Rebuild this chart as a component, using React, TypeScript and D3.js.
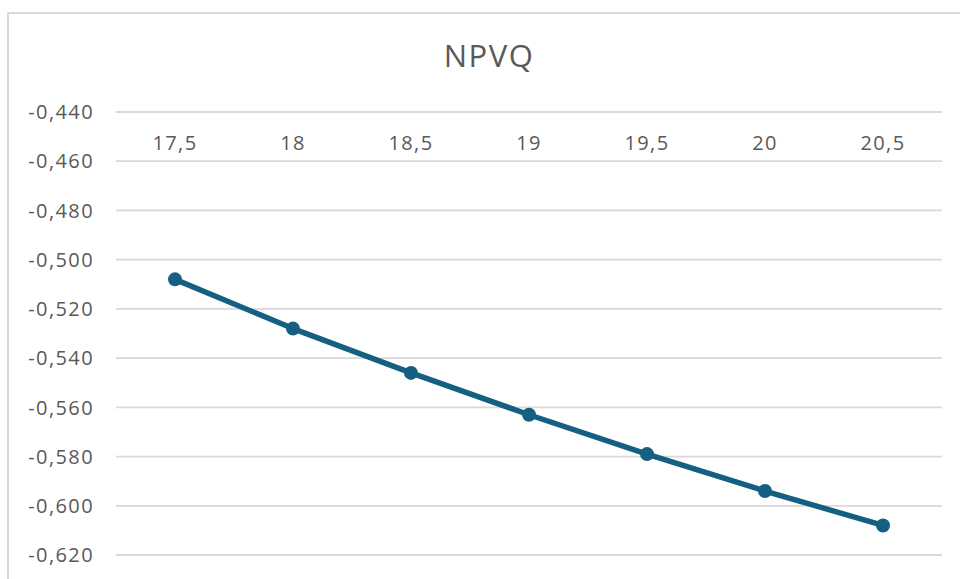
import React from "react";
import * as d3 from "d3";

// NPVQ as a function of the input parameter
const categories: string[] = ["17,5", "18", "18,5", "19", "19,5", "20", "20,5"];
const npvqValues: number[] = [-0.508, -0.528, -0.546, -0.563, -0.579, -0.594, -0.608];
const yTicks: number[] = [-0.44, -0.46, -0.48, -0.5, -0.52, -0.54, -0.56, -0.58, -0.6, -0.62];
const chartTitle = "NPVQ";

const WIDTH = 960;
const HEIGHT = 579;
const plot = { left: 116, right: 942, top: 112, bottom: 555 };

const TEXT = "#595959";
const GRID = "#d9d9d9";
const LINE = "#156082";
const FONT = "'Open Sans', 'Liberation Sans', sans-serif";

const fmt = (v: number) => v.toFixed(3).replace(".", ",");

export default function App() {
  const x = d3
    .scalePoint<string>()
    .domain(categories)
    .range([plot.left, plot.right])
    .padding(0.5);
  const y = d3
    .scaleLinear()
    .domain([-0.62, -0.44])
    .range([plot.bottom, plot.top]);

  const pts = categories.map((c, i) => ({ c, v: npvqValues[i] }));
  const line = d3
    .line<{ c: string; v: number }>()
    .x((d) => x(d.c) as number)
    .y((d) => y(d.v));

  return (
    <svg
      width={WIDTH}
      height={HEIGHT}
      style={{ position: "absolute", left: 0, top: 0, background: "#fff" }}
      fontFamily={FONT}
    >
      {/* chart area frame */}
      <rect x={8} y={13} width={980} height={600} fill="#fff" stroke={GRID} strokeWidth={2} />

      <text
        x={489}
        y={67}
        textAnchor="middle"
        fontSize={31}
        letterSpacing={1.5}
        fill={TEXT}
      >
        {chartTitle}
      </text>

      {/* horizontal gridlines */}
      {yTicks.map((t) => (
        <line
          key={t}
          x1={plot.left}
          x2={plot.right}
          y1={y(t)}
          y2={y(t)}
          stroke={GRID}
          strokeWidth={1.8}
        />
      ))}

      {/* value axis labels */}
      {yTicks.map((t) => (
        <text
          key={"l" + t}
          x={94}
          y={y(t)}
          dy="0.36em"
          textAnchor="end"
          fontSize={20}
          letterSpacing={1.4}
          fill={TEXT}
        >
          {fmt(t)}
        </text>
      ))}

      {/* category labels just below the top axis */}
      {categories.map((c) => (
        <text
          key={"c" + c}
          x={x(c) as number}
          y={150}
          textAnchor="middle"
          fontSize={20}
          letterSpacing={1.4}
          fill={TEXT}
        >
          {c}
        </text>
      ))}

      <path
        d={line(pts) ?? ""}
        fill="none"
        stroke={LINE}
        strokeWidth={5.5}
        strokeLinejoin="round"
        strokeLinecap="round"
      />
      {pts.map((p) => (
        <circle key={"p" + p.c} cx={x(p.c) as number} cy={y(p.v)} r={7} fill={LINE} />
      ))}
    </svg>
  );
}
